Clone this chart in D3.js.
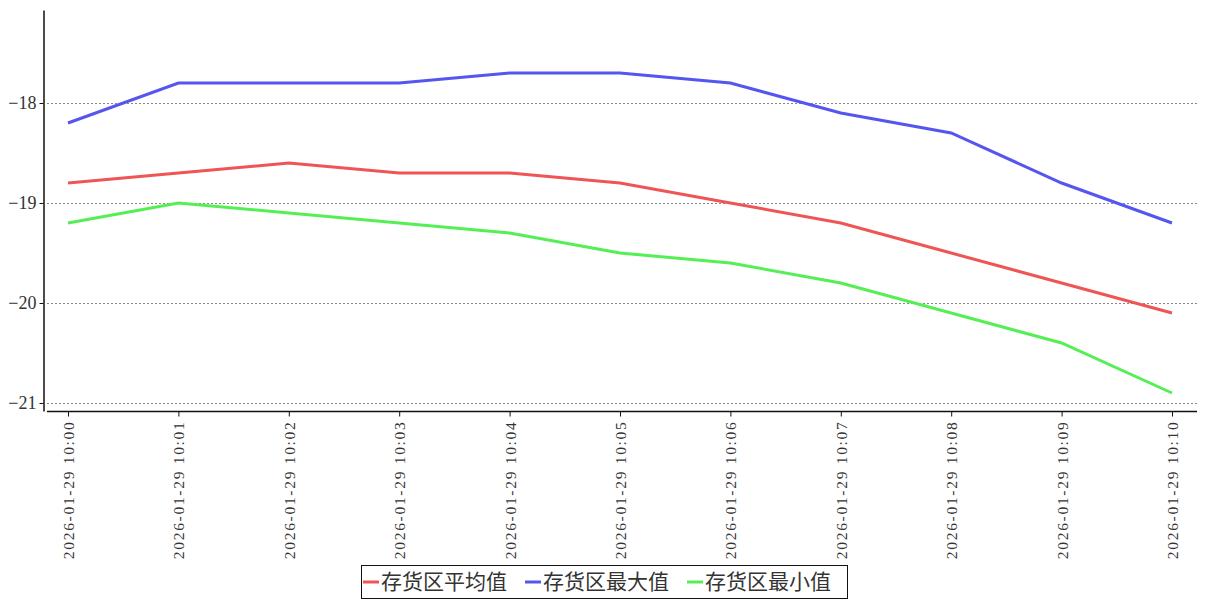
<!DOCTYPE html>
<html lang="zh">
<head>
<meta charset="utf-8">
<title>存货区温度</title>
<style>
  body { margin: 0; background: #fff; }
  svg text { font-family: "Liberation Serif", "Noto Sans CJK SC", serif; fill: #333; }
  .grid line { stroke: #888; stroke-dasharray: 2,2; stroke-width: 1; }
</style>
</head>
<body>
<div id="chart"></div>
<script src="https://cdn.jsdelivr.net/npm/d3@7/dist/d3.min.js"></script>
<script>
var categories = ["2026-01-29 10:00", "2026-01-29 10:01", "2026-01-29 10:02", "2026-01-29 10:03",
  "2026-01-29 10:04", "2026-01-29 10:05", "2026-01-29 10:06", "2026-01-29 10:07",
  "2026-01-29 10:08", "2026-01-29 10:09", "2026-01-29 10:10"];
var avgValues = [-18.8, -18.7, -18.6, -18.7, -18.7, -18.8, -19.0, -19.2, -19.5, -19.8, -20.1];
var maxValues = [-18.2, -17.8, -17.8, -17.8, -17.7, -17.7, -17.8, -18.1, -18.3, -18.8, -19.2];
var minValues = [-19.2, -19.0, -19.1, -19.2, -19.3, -19.5, -19.6, -19.8, -20.1, -20.4, -20.9];
var seriesNames = ["存货区平均值", "存货区最大值", "存货区最小值"];
var seriesColors = ["#ef5555", "#5555ef", "#55ef55"];
var yTicks = [-18, -19, -20, -21];

var width = 1207, height = 600;
var svg = d3.select("#chart").append("svg")
  .attr("width", width).attr("height", height);

var x = d3.scalePoint().domain(categories).range([68, 1172]);
var y = d3.scaleLinear().domain([-21.08, -17.07]).range([411, 10]);

// grid
svg.append("g").attr("class", "grid")
  .selectAll("line").data(yTicks).enter().append("line")
  .attr("x1", 47).attr("x2", 1197)
  .attr("y1", function(d) { return y(d) + 0.5; })
  .attr("y2", function(d) { return y(d) + 0.5; });

// y axis
var yAxis = svg.append("g").attr("transform", "translate(43.5,0)")
  .call(d3.axisLeft(y).tickValues(yTicks).tickSize(4).tickSizeOuter(0)
    .tickFormat(function(d) { return "\u2212" + Math.abs(d); }));
yAxis.select(".domain").attr("stroke", "#111").attr("stroke-width", 1.5);
yAxis.selectAll(".tick line").attr("stroke", "#111");
yAxis.selectAll("text").attr("font-size", "18px").attr("x", -7);

// x axis
var xAxis = svg.append("g").attr("transform", "translate(0,411.5)")
  .call(d3.axisBottom(x).tickSize(5).tickSizeOuter(0));
xAxis.select(".domain").attr("d", "M47,0H1197").attr("stroke", "#111").attr("stroke-width", 1.5);
xAxis.selectAll(".tick line").attr("stroke", "#111");
xAxis.selectAll("text")
  .attr("font-size", "15.5px")
  .attr("letter-spacing", "1.7px")
  .attr("transform", "rotate(-90)")
  .attr("text-anchor", "end")
  .attr("dy", "0.35em")
  .attr("x", -9).attr("y", 0);

// lines
var allSeries = [avgValues, maxValues, minValues];
var line = d3.line()
  .x(function(d, i) { return x(categories[i]); })
  .y(function(d) { return y(d); });

svg.selectAll(".series").data(allSeries).enter().append("path")
  .attr("class", "series")
  .attr("fill", "none")
  .attr("stroke", function(d, i) { return seriesColors[i]; })
  .attr("stroke-width", 3)
  .attr("d", line);

// legend
var legend = svg.append("g");
legend.append("rect")
  .attr("x", 361.5).attr("y", 565.5).attr("width", 486).attr("height", 33)
  .attr("fill", "#fff").attr("stroke", "#111").attr("stroke-width", 1);
var item = legend.selectAll(".item").data(seriesNames).enter().append("g")
  .attr("transform", function(d, i) { return "translate(" + (363 + i * 162) + ",0)"; });
item.append("line")
  .attr("x1", 0).attr("x2", 16).attr("y1", 582).attr("y2", 582)
  .attr("stroke", function(d, i) { return seriesColors[i]; })
  .attr("stroke-width", 3);
item.append("text")
  .attr("x", 18).attr("y", 589)
  .attr("font-size", "21px")
  .attr("font-family", "'Noto Sans CJK SC', serif")
  .text(function(d) { return d; });
</script>
</body>
</html>
